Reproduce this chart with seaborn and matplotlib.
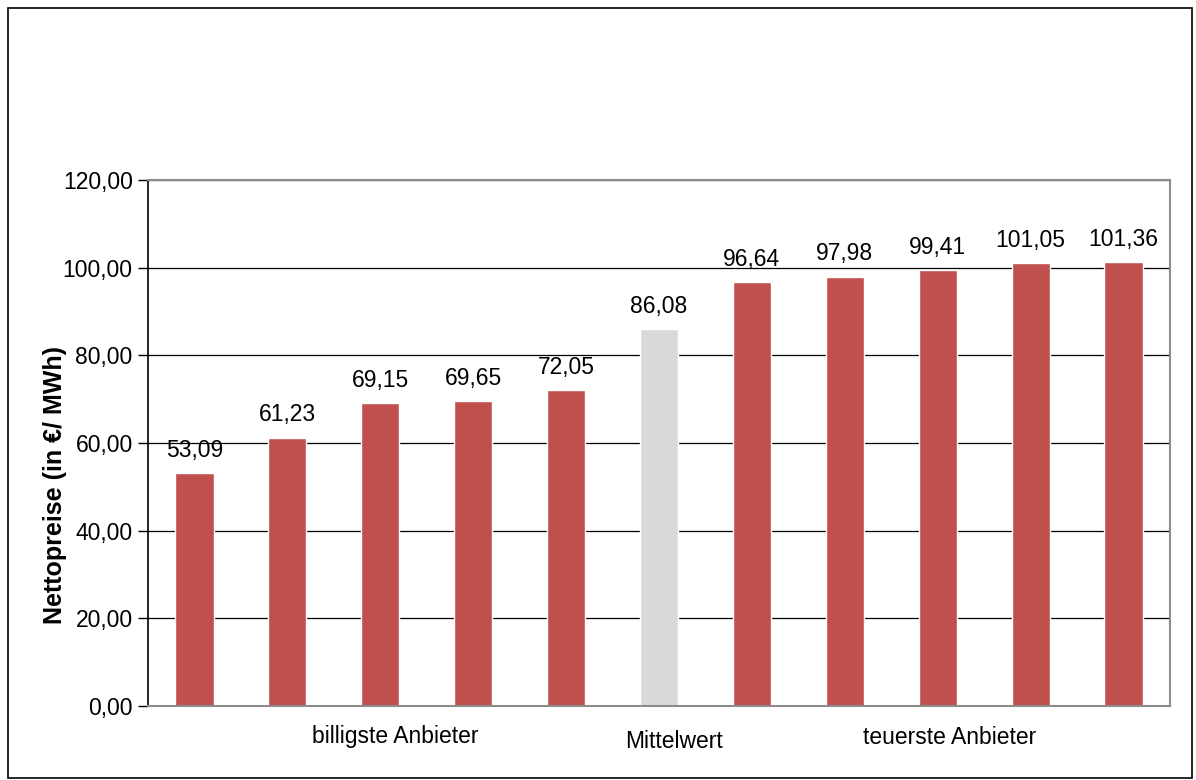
import matplotlib
matplotlib.use("Agg")
import matplotlib.pyplot as plt
import matplotlib.transforms as mtransforms
import seaborn as sns
import pandas as pd

anbieter = [f"A{i}" for i in range(1, 12)]
preise = [53.09, 61.23, 69.15, 69.65, 72.05, 86.08, 96.64, 97.98, 99.41, 101.05, 101.36]
farben = ["#C0504D"] * 5 + ["#D9D9D9"] + ["#C0504D"] * 5
gruppen_labels = ["billigste Anbieter", "Mittelwert", "teuerste Anbieter"]
gruppen_pos = [2.16, 5.16, 8.13]
gruppen_y = [-0.058, -0.068, -0.060]
y_ticks = [0, 20, 40, 60, 80, 100, 120]

sns.set_style("white")
plt.rcParams['font.family'] = ['Liberation Sans', 'DejaVu Sans']
plt.rcParams['text.color'] = 'black'
plt.rcParams['ytick.color'] = 'black'
plt.rcParams['axes.labelcolor'] = 'black'

df = pd.DataFrame({"Anbieter": anbieter, "Preis": preise})

fig = plt.figure(figsize=(11.96, 7.8), dpi=100)
ax = fig.add_axes([148/1196, 1 - 706/780, (1170 - 148)/1196, (706 - 180)/780])

sns.barplot(data=df, x="Anbieter", y="Preis", hue="Anbieter", palette=farben,
            legend=False, width=0.41, ax=ax, saturation=1)

ax.set_xlim(-0.5, 10.5)
ax.set_ylim(0, 120)
ax.set_yticks(y_ticks)
ax.set_yticklabels([f"{v:.2f}".replace(".", ",") for v in y_ticks], fontsize=16.5)
ax.yaxis.grid(True, color="black", linewidth=0.9)
ax.set_axisbelow(True)
ax.set_xticks([])
ax.set_xlabel("")
ax.set_ylabel("Nettopreise (in €/ MWh)", fontsize=18, fontweight="bold")
ax.yaxis.set_label_coords(-0.079, 0.42)
ax.tick_params(axis="y", which="both", left=True, length=7, width=1, color="black", pad=4)

for name, sp in ax.spines.items():
    sp.set_visible(True)
    sp.set_color("#8C8C8C")
    sp.set_linewidth(1.5)
ax.spines["left"].set_color("black")
ax.spines["left"].set_linewidth(1.2)

for container in ax.containers:
    ax.bar_label(container, labels=[f"{v:.2f}".replace(".", ",") for v in container.datavalues],
                 padding=8, fontsize=16.5)

trans = mtransforms.blended_transform_factory(ax.transData, ax.transAxes)
for lab, xp, yp in zip(gruppen_labels, gruppen_pos, gruppen_y):
    ax.text(xp, yp, lab, transform=trans, ha="center", va="center", fontsize=16.5)

rect = plt.Rectangle((8/1196, 2/780), (1192 - 8)/1196, (772 - 2)/780, transform=fig.transFigure,
                     fill=False, edgecolor="black", linewidth=1.2)
fig.patches.append(rect)

fig.savefig("out.png", dpi=100, facecolor="white")
